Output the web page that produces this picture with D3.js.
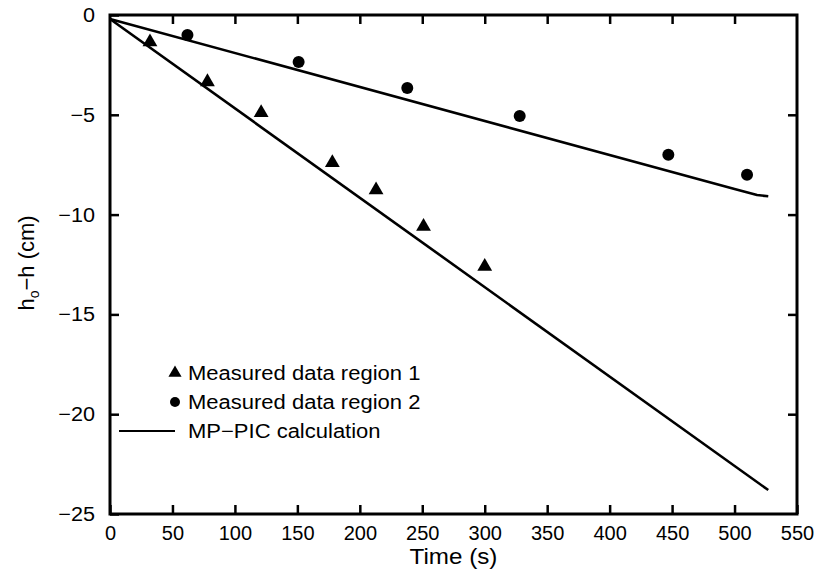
<!DOCTYPE html>
<html>
<head>
<meta charset="utf-8">
<script src="https://cdn.jsdelivr.net/npm/d3@7"></script>
<style>
  body { margin: 0; background: #fff; }
  text { font-family: "Liberation Sans", Arial, sans-serif; fill: #000; }
</style>
</head>
<body>
<script>
var svgWidth = 818;
var svgHeight = 581;

// region 1 measured (triangles)
var region1Time = [32, 78, 121, 178, 213, 251, 300];
var region1Drop = [-1.35, -3.35, -4.9, -7.4, -8.77, -10.6, -12.6];
// region 2 measured (circles)
var region2Time = [62, 151, 238, 328, 447, 510];
var region2Drop = [-1.0, -2.35, -3.66, -5.06, -7.0, -8.0];
// MP-PIC calculation lines
var calc1Time = [0, 527];
var calc1Drop = [-0.2, -23.8];
var calc2Time = [0, 500, 518, 527];
var calc2Drop = [-0.2, -8.72, -9.02, -9.08];

var xTicks = [0, 50, 100, 150, 200, 250, 300, 350, 400, 450, 500, 550];
var yTicks = [0, -5, -10, -15, -20, -25];
var legendLabels = ["Measured data region 1", "Measured data region 2", "MP\u2212PIC calculation"];

var margin = {left: 110, top: 15, right: 21, bottom: 67};
var w = svgWidth - margin.left - margin.right;
var h = svgHeight - margin.top - margin.bottom;

var svg = d3.select("body").append("svg").attr("width", svgWidth).attr("height", svgHeight);
var g = svg.append("g").attr("transform", "translate(" + margin.left + "," + margin.top + ")");

var x = d3.scaleLinear().domain([0, 550]).range([0, w]);
var y = d3.scaleLinear().domain([-25, 0]).range([h, 0]);

var fmt = function(d) { return d < 0 ? "\u2212" + Math.abs(d) : String(d); };

// stretch text a little wider, the original type is broad
function widen(sel, k) {
    sel.each(function() {
        var len = this.getComputedTextLength();
        d3.select(this).attr("textLength", len * k).attr("lengthAdjust", "spacingAndGlyphs");
    });
}

// bottom axis
var xAxis = g.append("g").attr("transform", "translate(0," + h + ")")
    .call(d3.axisBottom(x).tickValues(xTicks).tickSize(-9).tickPadding(12).tickFormat(fmt));
xAxis.selectAll("text").attr("font-size", 20);

// left axis
var yAxis = g.append("g")
    .call(d3.axisLeft(y).tickValues(yTicks).tickSize(-9).tickPadding(15).tickFormat(fmt));
yAxis.selectAll("text").attr("font-size", 20);
widen(yAxis.selectAll("text"), 1.08);

// top / right ticks
g.append("g").call(d3.axisTop(x).tickValues(xTicks.slice(1, -1)).tickSize(-9).tickFormat(""));
g.append("g").attr("transform", "translate(" + w + ",0)")
    .call(d3.axisRight(y).tickValues(yTicks.slice(1, -1)).tickSize(-9).tickFormat(""));

g.selectAll(".domain").remove();
g.selectAll(".tick line").attr("stroke", "#000").attr("stroke-width", 2.5);

// frame
g.append("rect").attr("width", w).attr("height", h)
    .attr("fill", "none").attr("stroke", "#000").attr("stroke-width", 3);

// calculation lines
var line = d3.line().x(function(d) { return x(d[0]); }).y(function(d) { return y(d[1]); });
[[calc1Time, calc1Drop], [calc2Time, calc2Drop]].forEach(function(s) {
    g.append("path")
        .datum(d3.zip(s[0], s[1]))
        .attr("d", line)
        .attr("fill", "none")
        .attr("stroke", "#000")
        .attr("stroke-width", 2.6)
        .attr("stroke-linejoin", "round");
});

var tri = d3.symbol().type(d3.symbolTriangle).size(95);

g.selectAll(".tri").data(d3.zip(region1Time, region1Drop)).join("path")
    .attr("class", "tri")
    .attr("d", tri)
    .attr("transform", function(d) { return "translate(" + x(d[0]) + "," + y(d[1]) + ")"; })
    .attr("fill", "#000");

g.selectAll(".dot").data(d3.zip(region2Time, region2Drop)).join("circle")
    .attr("class", "dot")
    .attr("cx", function(d) { return x(d[0]); })
    .attr("cy", function(d) { return y(d[1]); })
    .attr("r", 6)
    .attr("fill", "#000");

// legend
var lg = svg.append("g").attr("transform", "translate(119,373)");
lg.append("path").attr("d", d3.symbol().type(d3.symbolTriangle).size(75))
    .attr("transform", "translate(56,0)").attr("fill", "#000");
lg.append("circle").attr("cx", 56).attr("cy", 29).attr("r", 5).attr("fill", "#000");
lg.append("line").attr("x1", 0).attr("x2", 56).attr("y1", 58).attr("y2", 58)
    .attr("stroke", "#000").attr("stroke-width", 2.2);
var lgText = lg.selectAll("text").data(legendLabels).join("text")
    .attr("x", 69)
    .attr("y", function(d, i) { return i * 29 + 7; })
    .attr("font-size", 20)
    .text(function(d) { return d; });
widen(lgText, 1.1);

// axis titles
var xt = svg.append("text").attr("x", margin.left + x(275)).attr("y", 564)
    .attr("text-anchor", "middle").attr("font-size", 22).text("Time (s)");
widen(xt, 1.1);

var yt = svg.append("text").attr("transform", "translate(34,263) rotate(-90)")
    .attr("text-anchor", "middle").attr("font-size", 22);
yt.append("tspan").text("h");
yt.append("tspan").attr("font-size", 14).attr("dy", 5).text("o");
yt.append("tspan").attr("dy", -5).text("\u2212h (cm)");
</script>
</body>
</html>
